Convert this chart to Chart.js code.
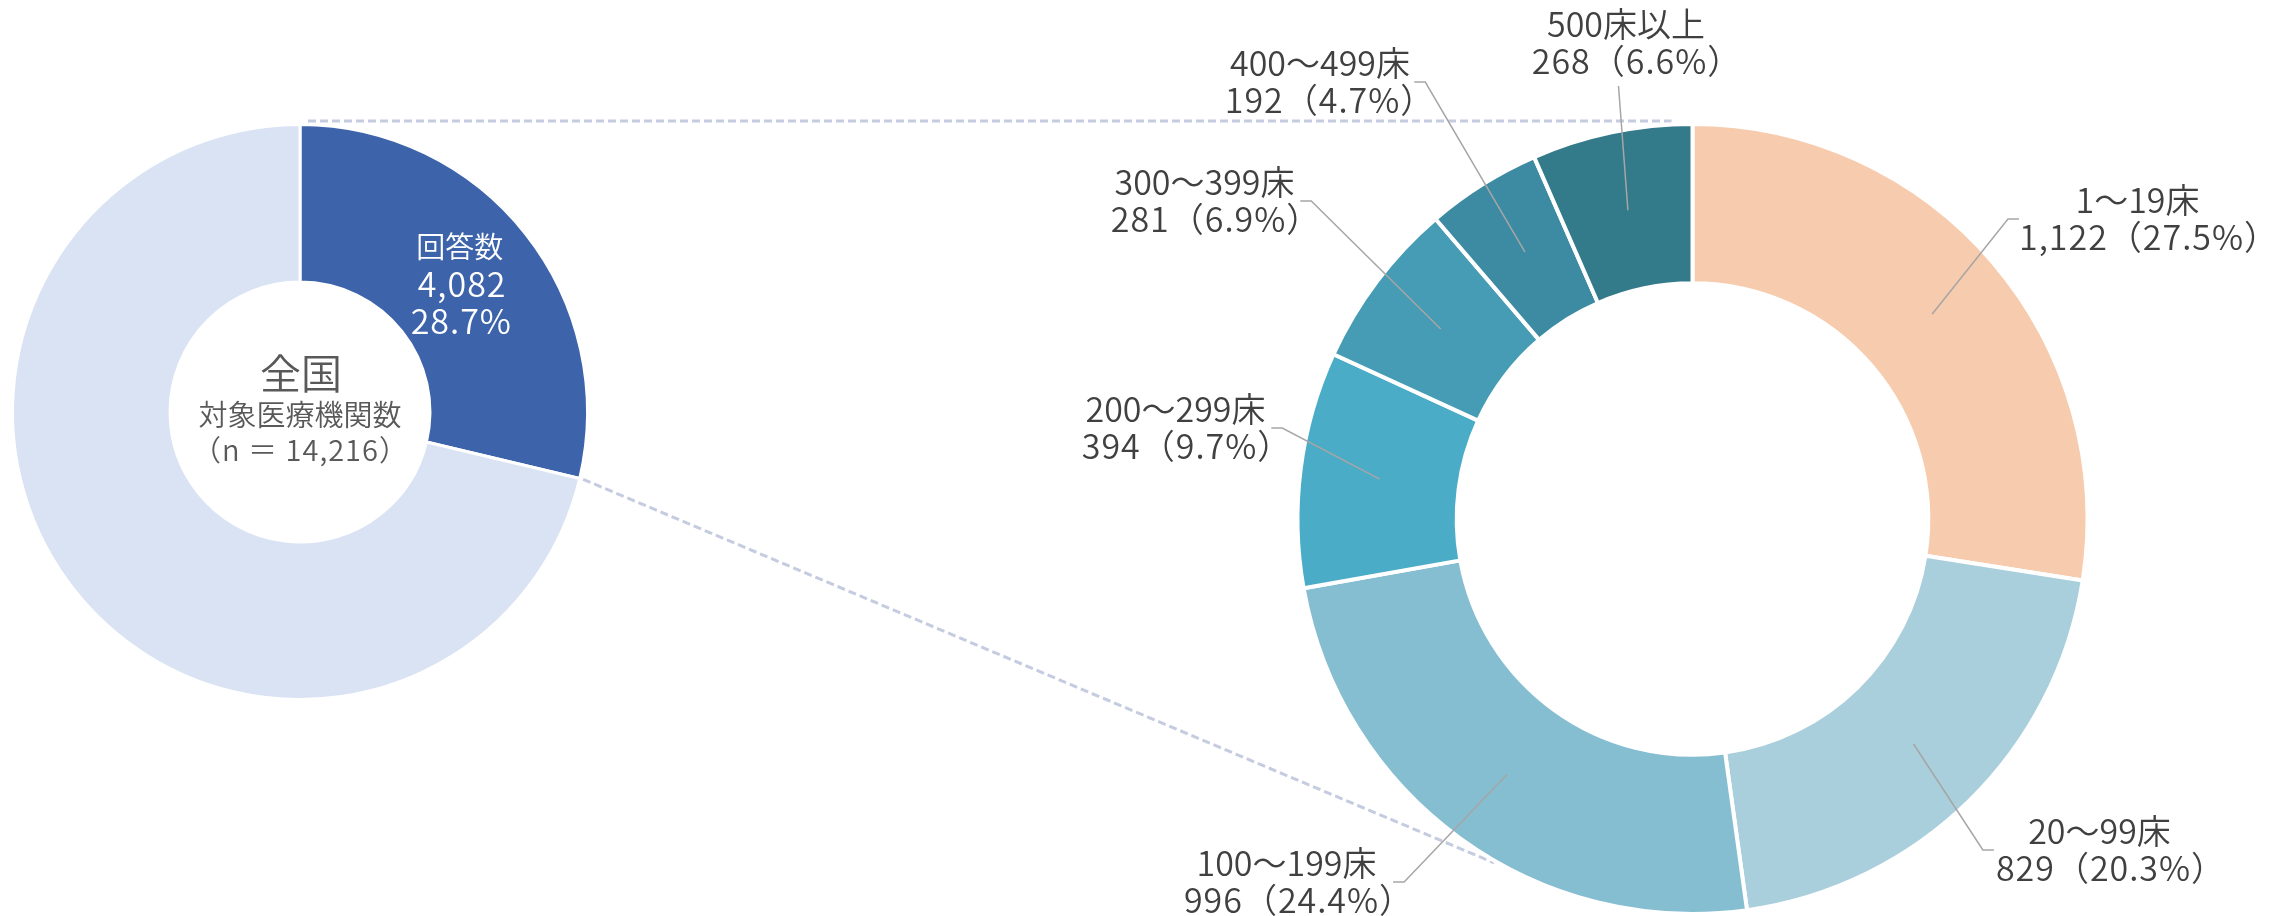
<!DOCTYPE html>
<html lang="ja">
<head>
<meta charset="utf-8">
<title>病床規模別 回答数</title>
<script src="https://cdn.jsdelivr.net/npm/chart.js@4.4.1/dist/chart.umd.min.js"></script>
<style>
    html, body { margin: 0; padding: 0; background: #fff; }
    #wrapper { position: relative; width: 2280px; height: 916px; }
    #wrapper canvas { position: absolute; left: 0; top: 0; }
</style>
</head>
<body>
<div id="wrapper">
    <canvas id="cvTotale" width="2280" height="916"></canvas>
    <canvas id="cvLetti" width="2280" height="916"></canvas>
</div>
<script>
"use strict";
// dati - grafico di sinistra (全国)
const totaleLabels = ["回答数", "未回答"];
const totaleValues = [4082, 10134];
const totaleN = 14216;
const totaleColors = ["#3d63aa", "#dae3f3"];

// dati - grafico di destra (病床規模別)
const lettiLabels = ["1～19床", "20～99床", "100～199床", "200～299床", "300～399床", "400～499床", "500床以上"];
const lettiValues = [1122, 829, 996, 394, 281, 192, 268];
const lettiColors = ["#f7cbad", "#a9cfdc", "#86bed1", "#4aacc6", "#469cb5", "#3d8ba2", "#337a8b"];

// posizione delle etichette rispetto al centro della ciambella (dx, dy)
const lettiLabelOffset = [[446, -300], [407, 331], [-405, 363], [-517, -91], [-488, -318], [-373, -437], [-67, -476]];

const FONT = '"Noto Sans CJK JP", "Noto Sans", sans-serif';
let chartTotale, chartLetti;

function num(v) {
    return v.toLocaleString("en-US");
}

// scrive il testo centrato sulla parte visibile dei glifi
function testoCentrato(ctx, testo, x, y) {
    let m = ctx.measureText(testo);
    ctx.textAlign = "left";
    ctx.fillText(testo, x - (m.actualBoundingBoxRight - m.actualBoundingBoxLeft) / 2, y);
    return m.actualBoundingBoxLeft + m.actualBoundingBoxRight;
}

const etichetteTotale = {
    id: "etichetteTotale",
    afterDatasetsDraw(chart) {
        let ctx = chart.ctx;
        let arc = chart.getDatasetMeta(0).data[0];
        ctx.save();
        ctx.textBaseline = "middle";
        ctx.fillStyle = "#595959";
        ctx.font = "350 41px " + FONT;
        testoCentrato(ctx, "全国", arc.x, arc.y - 39);
        ctx.font = "350 29px " + FONT;
        testoCentrato(ctx, "対象医療機関数", arc.x, arc.y + 3);
        ctx.letterSpacing = "1px";
        testoCentrato(ctx, "（n ＝ " + num(totaleN) + "）", arc.x, arc.y + 38);
        // etichetta dello spicchio
        let p = arc.tooltipPosition();
        ctx.letterSpacing = "0px";
        ctx.fillStyle = "#fff";
        ctx.font = "350 29px " + FONT;
        testoCentrato(ctx, totaleLabels[0], p.x - 3, p.y - 36);
        ctx.font = "350 34px " + FONT;
        ctx.letterSpacing = "1px";
        testoCentrato(ctx, num(totaleValues[0]), p.x - 3, p.y + 1);
        testoCentrato(ctx, (totaleValues[0] / totaleN * 100).toFixed(1) + "%", p.x - 3, p.y + 38);
        ctx.restore();
    }
};

const connettori = {
    id: "connettori",
    beforeDatasetsDraw(chart) {
        let ctx = chart.ctx;
        let a = chartTotale.getDatasetMeta(0).data[0];
        let b = chart.getDatasetMeta(0).data[0];
        let rA = a.outerRadius - 1.5;
        let rB = b.outerRadius - 2;
        ctx.save();
        ctx.strokeStyle = "#c5cce0";
        ctx.lineWidth = 3;
        ctx.setLineDash([8, 4]);
        ctx.beginPath();
        let yTop = a.y - rA - 5;
        ctx.moveTo(a.x + 8, yTop);
        ctx.lineTo(b.x - 21, yTop);
        ctx.moveTo(a.x + Math.cos(a.endAngle) * (rA + 5), a.y + Math.sin(a.endAngle) * (rA + 5));
        let angB = 120 * Math.PI / 180;
        ctx.lineTo(b.x + Math.cos(angB) * (rB + 4), b.y + Math.sin(angB) * (rB + 4));
        ctx.stroke();
        ctx.restore();
    },
    afterDatasetsDraw(chart) {
        let ctx = chart.ctx;
        let meta = chart.getDatasetMeta(0);
        let tot = lettiValues.reduce((s, v) => s + v, 0);
        ctx.save();
        ctx.font = "350 34px " + FONT;
        ctx.textBaseline = "middle";
        ctx.strokeStyle = "#a6a6a6";
        ctx.lineWidth = 1.5;
        meta.data.forEach(function(arc, i) {
            let riga1 = lettiLabels[i];
            let riga2 = num(lettiValues[i]) + "（" + (lettiValues[i] / tot * 100).toFixed(1) + "%）";
            let lx = arc.x + lettiLabelOffset[i][0];
            let ly = arc.y + lettiLabelOffset[i][1];
            ctx.letterSpacing = "0px";
            let m1 = ctx.measureText(riga1);
            ctx.letterSpacing = "1px";
            let m2 = ctx.measureText(riga2);
            let w = Math.max(m1.actualBoundingBoxLeft + m1.actualBoundingBoxRight,
                             m2.actualBoundingBoxLeft + m2.actualBoundingBoxRight);
            let p = arc.tooltipPosition();
            ctx.beginPath();
            if (Math.abs(lx - p.x) < w / 2) {
                // etichetta sopra lo spicchio
                ctx.moveTo(lx - 7, ly + 43);
                ctx.lineTo(p.x, p.y);
            } else {
                let dir = lx > p.x ? -1 : 1;
                let xEnd = lx + dir * (w / 2 + 3);
                ctx.moveTo(xEnd, ly);
                ctx.lineTo(xEnd + dir * 11, ly);
                ctx.lineTo(p.x, p.y);
            }
            ctx.stroke();
            ctx.fillStyle = "#404040";
            ctx.letterSpacing = "0px";
            testoCentrato(ctx, riga1, lx, ly - 18.5);
            ctx.letterSpacing = "1px";
            testoCentrato(ctx, riga2, lx, ly + 18.5);
        });
        ctx.restore();
    }
};

chartTotale = new Chart(document.getElementById("cvTotale"), {
    type: "doughnut",
    data: {
        labels: totaleLabels,
        datasets: [{
            data: totaleValues,
            backgroundColor: totaleColors,
            borderColor: "#fff",
            borderWidth: 3,
            hoverOffset: 0
        }]
    },
    options: {
        responsive: false,
        animation: false,
        events: [],
        radius: 287.5,
        cutout: "45.2%",
        layout: { padding: { left: 0, right: 1680, top: 0, bottom: 92 } },
        plugins: { legend: { display: false }, tooltip: { enabled: false } }
    },
    plugins: [etichetteTotale]
});

chartLetti = new Chart(document.getElementById("cvLetti"), {
    type: "doughnut",
    data: {
        labels: lettiLabels,
        datasets: [{
            data: lettiValues,
            backgroundColor: lettiColors,
            borderColor: "#fff",
            borderWidth: 4,
            hoverOffset: 0
        }]
    },
    options: {
        responsive: false,
        animation: false,
        events: [],
        radius: 395,
        cutout: "59.7%",
        layout: { padding: { left: 1105, right: 0, top: 122, bottom: 0 } },
        plugins: { legend: { display: false }, tooltip: { enabled: false } }
    },
    plugins: [connettori]
});
</script>
</body>
</html>
